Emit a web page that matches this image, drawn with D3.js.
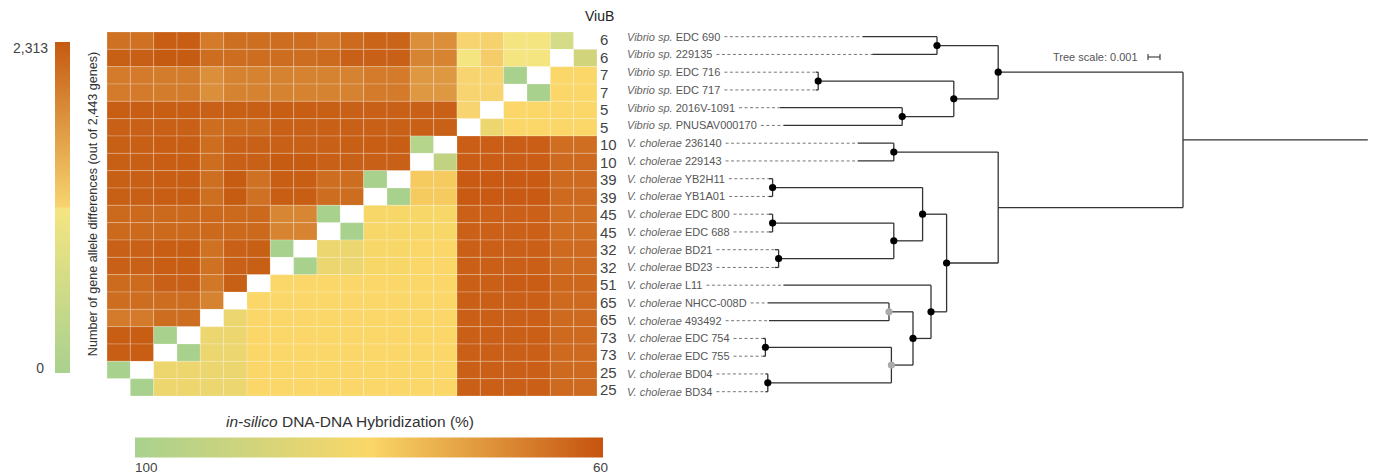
<!DOCTYPE html>
<html><head><meta charset="utf-8">
<script src="https://cdn.jsdelivr.net/npm/d3@7"></script>
<style>
html,body{margin:0;padding:0;background:#fff;}
svg{display:block;font-family:"Liberation Sans",Arial,Helvetica,sans-serif;}
</style></head><body>
<svg id="chart" width="1378" height="476"></svg>
<script>
// Strains, top to bottom
const strains = ["EDC 690","229135","EDC 716","EDC 717","2016V-1091","PNUSAV000170",
  "236140","229143","YB2H11","YB1A01","EDC 800","EDC 688","BD21","BD23","L11",
  "NHCC-008D","493492","EDC 754","EDC 755","BD04","BD34"];
const species = ["Vibrio sp.","Vibrio sp.","Vibrio sp.","Vibrio sp.","Vibrio sp.","Vibrio sp.",
  "V. cholerae","V. cholerae","V. cholerae","V. cholerae","V. cholerae","V. cholerae","V. cholerae",
  "V. cholerae","V. cholerae","V. cholerae","V. cholerae","V. cholerae","V. cholerae","V. cholerae","V. cholerae"];
// ViuB count per strain
const viuB = [6,6,7,7,5,5,10,10,39,39,45,45,32,32,51,65,65,73,73,25,25];

// Gene allele differences: per row strain, against the column strains from BD34 (left) up to the diagonal
const alleleDiffs = [
  [2097,2097,2274,2274,2000,2117,2117,2136,2136,2040,2150,2215,2215,1813,1813,1160,1177,1140,1135,654],
  [2264,2264,2313,2300,2136,2136,2136,2136,2136,2150,2244,2244,2244,1911,1911,1148,1226,1150,1150],
  [2000,2000,1990,1990,1813,1920,1920,1920,1920,1920,1920,2000,2000,1725,1725,1160,1160,0],
  [2000,2000,1990,1990,1813,1920,1920,1920,1920,1920,1920,2000,2000,1725,1725,1160,1160],
  [2274,2274,2274,2274,2244,2264,2264,2274,2274,2264,2244,2244,2244,2244,2244,1157],
  [2244,2244,2244,2244,2136,2175,2175,2244,2244,2244,2244,2244,2244,2244,2244],
  [2264,2264,2274,2274,2136,2244,2244,2244,2244,2244,2264,2274,2274,182],
  [2264,2264,2274,2274,2136,2244,2244,2300,2300,2244,2244,2244,2244],
  [2264,2264,2274,2274,2117,2300,2097,2274,2274,2136,2136,0],
  [2264,2264,2274,2274,2117,2300,2097,2274,2274,2136,2136],
  [2175,2175,2175,2175,2175,2175,2175,1892,1892,0],
  [2175,2175,2175,2175,2175,2175,2175,1911,1911],
  [2244,2244,2274,2274,2097,2244,2264,0],
  [2244,2244,2274,2274,2097,2244,2264],
  [2150,2150,2244,2244,2039,2264],
  [2136,2136,2136,2136,1920],
  [2000,2000,2136,2136],
  [2274,2274,0],
  [2274,2274],
  [0],
  []
];

// in-silico DDH (%): per row strain, against the column strains from just right of the diagonal to EDC 690 (right)
const ddhValues = [
  [],
  [90],
  [80,80],
  [100,80,80],
  [80,80,80,80],
  [83.5,80,80,80,80],
  [61.7,61.7,61.7,61.7,63.9,63.9],
  [94,61.7,61.7,61.7,61.7,63.5,63.5],
  [78,78,61.1,61.1,61.1,61.1,63.5,63.5],
  [100,78,78,61.1,61.1,61.1,61.1,63.5,63.5],
  [80.5,80.5,80.5,80.5,62.1,62.1,62.1,62.1,63.9,63.9],
  [100,80.5,80.5,80.5,80.5,62.1,62.1,62.1,62.1,63.9,63.9],
  [83.5,83.5,80.5,80.5,80,80,62,62,62,62,63.5,63.5],
  [100,83.5,83.5,80.5,80.5,80,80,62,62,62,62,63.5,63.5],
  [80,80,80,80,80,80,80,80,62,62,61.5,61.5,63,63],
  [80,80,80,80,80,80,80,80,80,62,62,62,62,63.5,63.5],
  [83.5,80,80,80,80,80,80,80,80,80,62,62,62,62,63.5,63.5],
  [83.5,83.5,80,80,80,80,80,80,80,80,80,62,62,62,62,63.5,63.5],
  [100,83.5,83.5,80,80,80,80,80,80,80,80,80,62,62,62,62,63.5,63.5],
  [83,83,83.5,83.5,80,80,80,80,80,80,80,80,80,62,62,62,62,63.5,63.5],
  [100,83,83,83.5,83.5,80,80,80,80,80,80,80,80,80,62,62,62,62,63.5,63.5]
];

const alleleRange = [0, 2313];
const ddhRange = [100, 60];

// Phylogeny (Newick); internal labels give node support class: hi = black dot, mid = grey dot
const newick = "(((EDC 690:0.0062,229135:0.0054)hi:0.0051,((EDC 716:0.0002,EDC 717:0.0002)hi:0.0113,(2016V-1091:0.0102,PNUSAV000170:0.0099)hi:0.0043)hi:0.0037)hi:0.0154,((236140:0.0030,229143:0.0030)hi:0.0087,(((YB2H11:0.0003,YB1A01:0.0003)hi:0.0125,((EDC 800:0.0003,EDC 688:0.0003)hi:0.0101,(BD21:0.0003,BD23:0.0003)hi:0.0096)hi:0.0024)hi:0.0020,(L11:0.0123,((NHCC-008D:0.0101,493492:0.0100)mid:0.0020,((EDC 754:0.0002,EDC 755:0.0002)hi:0.0105,(BD04:0.0002,BD34:0.0002)hi:0.0103)mid:0.0018)hi:0.0015)hi:0.0013)hi:0.0043):0.0154):0.0154;";
const treeScaleValue = 0.001;

// ---------------------------------------------------------------
const svg = d3.select("#chart");

const alleleColor = d3.scaleLinear()
  .domain([0, 1156, 1157, 2313])
  .range(["#a9d18e", "#f5e581", "#f7d470", "#c55a11"])
  .clamp(true);
const ddhColor = d3.scaleLinear()
  .domain([100, 80, 60])
  .range(["#a9d18e", "#fad768", "#c5530f"])
  .clamp(true);

// heatmap
const n = strains.length;
const colOrder = d3.range(n).reverse();           // column j shows strain n-1-j
const xCell = d3.scaleBand().domain(d3.range(n)).range([107, 597]);
const yCell = d3.scaleBand().domain(d3.range(n)).range([32, 396]);

const cells = [];
for (let i = 0; i < n; i++) {
  for (let j = 0; j < n; j++) {
    const k = colOrder[j];
    let fill;
    if (k === i) fill = "#ffffff";
    else if (k > i) fill = alleleColor(alleleDiffs[i][j]);
    else fill = ddhColor(ddhValues[i][j - (n - i)]);
    cells.push({i, j, fill, self: k === i});
  }
}
svg.append("g").selectAll("rect").data(cells).join("rect")
  .attr("x", d => xCell(d.j))
  .attr("y", d => yCell(d.i))
  .attr("width", xCell.bandwidth())
  .attr("height", yCell.bandwidth())
  .attr("fill", d => d.fill)
  .attr("stroke", d => d.self ? "none" : "#ffffff")
  .attr("stroke-opacity", 0.22)
  .attr("stroke-width", 1);

// left colour bar (allele differences)
const defs = svg.append("defs");
const gradA = defs.append("linearGradient").attr("id", "gradAllele")
  .attr("x1", 0).attr("y1", 1).attr("x2", 0).attr("y2", 0);
alleleColor.domain().forEach((v, idx) => {
  gradA.append("stop").attr("offset", v / alleleRange[1]).attr("stop-color", alleleColor.range()[idx]);
});
const yBar = d3.scaleLinear().domain(alleleRange).range([373, 42]);
svg.append("rect").attr("x", 55).attr("width", 15)
  .attr("y", yBar(alleleRange[1])).attr("height", yBar(0) - yBar(alleleRange[1]))
  .attr("fill", "url(#gradAllele)");
svg.append("text").attr("x", 48).attr("y", yBar(alleleRange[1]) + 11)
  .attr("text-anchor", "end").attr("font-size", 14).attr("fill", "#444")
  .text(d3.format(",")(alleleRange[1]));
svg.append("text").attr("x", 44).attr("y", yBar(alleleRange[0]))
  .attr("text-anchor", "end").attr("font-size", 14).attr("fill", "#444")
  .text(d3.format(",")(alleleRange[0]));
svg.append("text")
  .attr("transform", "translate(96.5,204) rotate(-90)")
  .attr("text-anchor", "middle").attr("font-size", 12.6).attr("fill", "#333")
  .text("Number of gene allele differences (out of 2,443 genes)");

// bottom colour bar (DDH)
const gradD = defs.append("linearGradient").attr("id", "gradDDH")
  .attr("x1", 0).attr("y1", 0).attr("x2", 1).attr("y2", 0);
const xBar = d3.scaleLinear().domain(ddhRange).range([135, 603]);
ddhColor.domain().forEach((v, idx) => {
  gradD.append("stop").attr("offset", (xBar(v) - 135) / (603 - 135)).attr("stop-color", ddhColor.range()[idx]);
});
svg.append("rect").attr("x", xBar(ddhRange[0])).attr("width", xBar(ddhRange[1]) - xBar(ddhRange[0]))
  .attr("y", 437.5).attr("height", 20).attr("fill", "url(#gradDDH)");
const ddhTitle = svg.append("text").attr("x", 350).attr("y", 426.5)
  .attr("text-anchor", "middle").attr("font-size", 15.5).attr("fill", "#333");
ddhTitle.append("tspan").attr("font-style", "italic").text("in-silico");
ddhTitle.append("tspan").text(" DNA-DNA Hybridization (%)");
svg.append("text").attr("x", xBar(ddhRange[0])).attr("y", 472)
  .attr("font-size", 13.5).attr("fill", "#444").text(ddhRange[0]);
svg.append("text").attr("x", xBar(ddhRange[1]) - 10).attr("y", 472)
  .attr("font-size", 13.5).attr("fill", "#444").text(ddhRange[1]);

// ViuB column
svg.append("text").attr("x", 585).attr("y", 20.5).attr("font-size", 14).attr("fill", "#222").text("ViuB");
const yNum = d3.scalePoint().domain(strains).range([40, 390]);
svg.append("g").selectAll("text").data(strains).join("text")
  .attr("x", 600).attr("y", d => yNum(d) + 5.3)
  .attr("font-size", 15).attr("fill", "#444")
  .text((d, i) => viuB[i]);

// strain labels
const yLab = d3.scalePoint().domain(strains).range([36.7, 391.7]);
const labelX = 627;
const labels = svg.append("g").selectAll("text").data(strains).join("text")
  .attr("x", labelX).attr("y", d => yLab(d) + 4)
  .attr("font-size", 11).attr("fill", "#555");
labels.append("tspan").attr("font-style", "italic").attr("fill", "#666").text((d, i) => species[i]);
labels.append("tspan").text(d => " " + d);
const labelEnd = {};
labels.each(function (d) { labelEnd[d] = labelX + this.getComputedTextLength(); });

// tree
function parseNewick(s) {
  let p = 0;
  function node() {
    const nd = {children: []};
    if (s[p] === "(") {
      p++;
      nd.children.push(node());
      while (s[p] === ",") { p++; nd.children.push(node()); }
      p++;
    }
    let label = "";
    while (p < s.length && !",():;".includes(s[p])) label += s[p++];
    nd.name = label.trim();
    nd.length = 0;
    if (s[p] === ":") {
      p++;
      let num = "";
      while (p < s.length && !",();".includes(s[p])) num += s[p++];
      nd.length = +num;
    }
    return nd;
  }
  return node();
}
const root = d3.hierarchy(parseNewick(newick), d => d.children.length ? d.children : null);
root.each(d => { d.dist = d.parent ? d.parent.dist + d.data.length : 0; });
const rootX = 1183;
const xTree = d3.scaleLinear().domain([0, treeScaleValue]).range([rootX, rootX - 12]);
root.eachAfter(d => {
  if (d.children) d.yPos = (d.children[0].yPos + d.children[d.children.length - 1].yPos) / 2;
  else d.yPos = yLab(d.data.name);
});

const treeG = svg.append("g").attr("stroke", "#333").attr("stroke-width", 1.3).attr("fill", "none");
// dashed leaders from labels to tips
svg.append("g").selectAll("line").data(root.leaves()).join("line")
  .attr("x1", d => labelEnd[d.data.name] + 4).attr("x2", d => xTree(d.dist))
  .attr("y1", d => d.yPos).attr("y2", d => d.yPos)
  .attr("stroke", "#777").attr("stroke-width", 1).attr("stroke-dasharray", "3,2.5");
// horizontal branches
treeG.selectAll("line.h").data(root.descendants().filter(d => d.parent)).join("line")
  .attr("class", "h")
  .attr("x1", d => xTree(d.dist)).attr("x2", d => xTree(d.parent.dist))
  .attr("y1", d => d.yPos).attr("y2", d => d.yPos);
// vertical connectors
treeG.selectAll("line.v").data(root.descendants().filter(d => d.children)).join("line")
  .attr("class", "v")
  .attr("x1", d => xTree(d.dist)).attr("x2", d => xTree(d.dist))
  .attr("y1", d => d.children[0].yPos).attr("y2", d => d.children[d.children.length - 1].yPos);
// root edge
treeG.append("line")
  .attr("x1", xTree(0)).attr("x2", xTree(-root.data.length))
  .attr("y1", root.yPos).attr("y2", root.yPos);
// support dots
svg.append("g").selectAll("circle")
  .data(root.descendants().filter(d => d.children && (d.data.name === "hi" || d.data.name === "mid")))
  .join("circle")
  .attr("cx", d => xTree(d.dist)).attr("cy", d => d.yPos).attr("r", 3.6)
  .attr("fill", d => d.data.name === "hi" ? "#000" : "#aaa");

// tree scale
svg.append("text").attr("x", 1053).attr("y", 61).attr("font-size", 11).attr("fill", "#555")
  .text("Tree scale: " + treeScaleValue);
const sb = svg.append("g").attr("stroke", "#444").attr("stroke-width", 1.2);
const sbX0 = 1148, sbX1 = sbX0 + (xTree(0) - xTree(treeScaleValue));
sb.append("line").attr("x1", sbX0).attr("x2", sbX1).attr("y1", 57).attr("y2", 57);
sb.append("line").attr("x1", sbX0).attr("x2", sbX0).attr("y1", 54).attr("y2", 60);
sb.append("line").attr("x1", sbX1).attr("x2", sbX1).attr("y1", 54).attr("y2", 60);
</script>
</body></html>
